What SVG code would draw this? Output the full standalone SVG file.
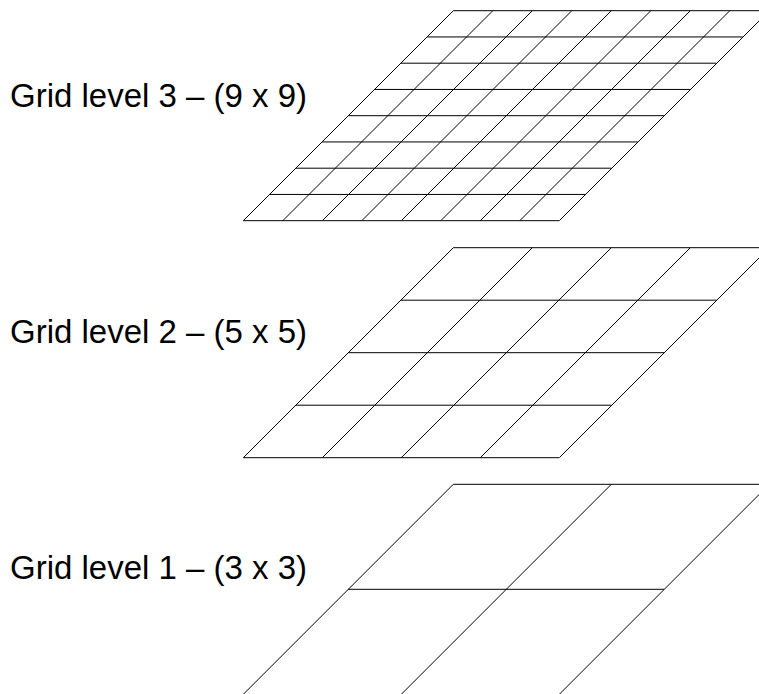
<svg xmlns="http://www.w3.org/2000/svg" width="759" height="694" viewBox="0 0 759 694">
<style>
.g{fill:none;stroke:#000;stroke-width:1}
.t{font-family:"Liberation Sans",Arial,sans-serif;font-size:33px;fill:#000}
</style>
<rect width="759" height="694" fill="#fff"/>
<g id="level3">
<text class="t" x="10" y="107">Grid level 3 – (9 x 9)</text>
<path class="g" d="M453.3,10.7H769M427.05,36.95H742.75M400.8,63.2H716.5M374.55,89.45H690.25M348.3,115.7H664M322.05,141.95H637.75M295.8,168.2H611.5M269.55,194.45H585.25M243.3,220.7H559
M243.3,220.7L453.3,10.7M282.8,220.7L492.8,10.7M322.3,220.7L532.3,10.7M361.8,220.7L571.8,10.7M401.3,220.7L611.3,10.7M440.8,220.7L650.8,10.7M480.3,220.7L690.3,10.7M519.8,220.7L729.8,10.7M559.3,220.7L769.3,10.7"/>
</g>
<g id="level2">
<text class="t" x="10" y="343">Grid level 2 – (5 x 5)</text>
<path class="g" d="M453.3,247.7H769M400.8,300.2H716.5M348.3,352.7H664M295.8,405.2H611.5M243.3,457.7H559
M243.3,457.7L453.3,247.7M322.3,457.7L532.3,247.7M401.3,457.7L611.3,247.7M480.3,457.7L690.3,247.7M559.3,457.7L769.3,247.7"/>
</g>
<g id="level1">
<text class="t" x="10" y="579">Grid level 1 – (3 x 3)</text>
<path class="g" d="M453.3,484.3H769M348.3,589.3H664
M243.3,694.3L453.3,484.3M401.3,694.3L611.3,484.3M559.3,694.3L769.3,484.3"/>
</g>
</svg>
